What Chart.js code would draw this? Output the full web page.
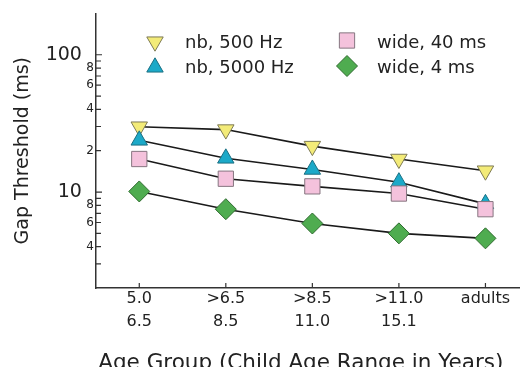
<!DOCTYPE html>
<html>
<head>
<meta charset="utf-8">
<script src="https://cdn.jsdelivr.net/npm/chart.js@4"></script>
<style>
  body { margin: 0; background: #fff; }
  #wrap { width: 531px; height: 367px; }
</style>
</head>
<body>
<div id="wrap"><canvas id="grafica"></canvas></div>
<script>
// age groups (two text lines per tick)
const gruposLinea1 = ['5.0', '>6.5', '>8.5', '>11.0', 'adults'];
const gruposLinea2 = ['6.5', '8.5', '11.0', '15.1', ''];
const posGrupos = [0, 1, 2, 3, 4];

// gap thresholds in ms
const nb500 = [29.9, 28.5, 21.6, 17.4, 14.3];
const nb5000 = [23.8, 17.6, 14.6, 11.8, 8.2];
const wide40 = [17.4, 12.5, 11.0, 9.75, 7.5];
const wide4 = [10.1, 7.5, 5.9, 5.0, 4.6];

const etiquetas = ['nb, 500 Hz', 'nb, 5000 Hz', 'wide, 40 ms', 'wide, 4 ms'];

// log axis ticks and their printed labels
const yTicks = [3, 4, 5, 6, 7, 8, 9, 10, 20, 30, 40, 50, 60, 70, 80, 90, 100];
const yTickLabels = { 4: '4', 6: '6', 8: '8', 10: '10', 20: '2', 40: '4', 60: '6', 80: '8', 100: '100' };

const fuente = "'DejaVu Sans', sans-serif";
const ejeColor = '#333';

const estilos = [
  { pointStyle: 'triangle', rotation: 180, radius: 9.5, bg: '#f3eb78', border: '#7d7a55' },
  { pointStyle: 'triangle', rotation: 0, radius: 9.5, bg: '#1ca9c8', border: '#1b6f82' },
  { pointStyle: 'rect', rotation: 0, radius: 10.8, bg: '#f4c2dc', border: '#867680' },
  { pointStyle: 'rectRot', rotation: 0, radius: 10.5, bg: '#4fac50', border: '#2e6a2e' }
];
const series = [nb500, nb5000, wide40, wide4];

function puntos(arr) {
  return arr.map((v, i) => ({ x: posGrupos[i], y: v }));
}

const datasets = [];
// lines underneath
series.forEach((s, i) => {
  datasets.push({
    label: etiquetas[i] + ' line',
    data: puntos(s),
    borderColor: '#1a1a1a',
    borderWidth: 1.6,
    pointRadius: 0,
    fill: false,
    order: 10
  });
});
// markers on top (wide 40 over nb 5000 over nb 500)
const ordenMarcas = { 0: 4, 1: 3, 2: 1, 3: 2 };
series.forEach((s, i) => {
  const e = estilos[i];
  datasets.push({
    label: etiquetas[i],
    data: puntos(s),
    showLine: false,
    pointStyle: e.pointStyle,
    pointRotation: e.rotation,
    pointRadius: e.radius,
    pointHoverRadius: e.radius,
    pointBackgroundColor: e.bg,
    pointBorderColor: e.border,
    pointBorderWidth: 1,
    order: ordenMarcas[i]
  });
});

// ticks pointing into the plot
const ticksAdentro = {
  id: 'ticksAdentro',
  afterDraw(chart) {
    const ctx = chart.ctx;
    const area = chart.chartArea;
    const x = chart.scales.x, y = chart.scales.y;
    ctx.save();
    ctx.strokeStyle = ejeColor;
    ctx.lineWidth = 1.2;
    ctx.beginPath();
    y.ticks.forEach(t => {
      const py = y.getPixelForValue(t.value);
      const len = (t.value === 10 || t.value === 100) ? 6 : 5;
      ctx.moveTo(area.left, py);
      ctx.lineTo(area.left + len, py);
    });
    x.ticks.forEach(t => {
      const px = x.getPixelForValue(t.value);
      ctx.moveTo(px, area.bottom);
      ctx.lineTo(px, area.bottom - 5);
    });
    ctx.stroke();
    ctx.restore();
  }
};

// two-column legend
const leyenda = {
  id: 'leyenda',
  afterDraw(chart) {
    const ctx = chart.ctx;
    const cols = [
      { mx: 155, tx: 185 },
      { mx: 347, tx: 377 }
    ];
    const ubic = [
      { c: 0, my: 41.7, ty: 47.5 },
      { c: 0, my: 67.3, ty: 72.5 },
      { c: 1, my: 40.5, ty: 47.5 },
      { c: 1, my: 66, ty: 72.5 }
    ];
    ctx.save();
    ubic.forEach((u, i) => {
      const e = estilos[i];
      ctx.fillStyle = e.bg;
      ctx.strokeStyle = e.border;
      ctx.lineWidth = 1;
      Chart.helpers.drawPoint(ctx, {
        pointStyle: e.pointStyle,
        rotation: e.rotation,
        radius: e.radius,
        borderWidth: 1
      }, cols[u.c].mx, u.my);
      ctx.fillStyle = '#222';
      ctx.font = '18px ' + fuente;
      ctx.textBaseline = 'alphabetic';
      ctx.textAlign = 'left';
      ctx.fillText(etiquetas[i], cols[u.c].tx, u.ty);
    });
    ctx.restore();
  }
};

const ctx = document.getElementById('grafica').getContext('2d');
const chart = new Chart(ctx, {
  type: 'line',
  data: { datasets: datasets },
  plugins: [ticksAdentro, leyenda],
  options: {
    responsive: true,
    maintainAspectRatio: false,
    animation: false,
    layout: { padding: { top: 12, right: 1, left: 0, bottom: 0 } },
    plugins: {
      legend: { display: false },
      tooltip: { enabled: false }
    },
    scales: {
      x: {
        type: 'linear',
        min: -0.5,
        max: 4.39,
        afterBuildTicks: (scale) => {
          scale.ticks = posGrupos.map(v => ({ value: v }));
        },
        afterFit: (scale) => { scale.height = 79; },
        grid: { display: true, drawOnChartArea: false, drawTicks: false },
        border: { display: true, color: ejeColor, width: 1.5 },
        ticks: {
          autoSkip: false,
          maxRotation: 0,
          padding: 0,
          color: '#222',
          font: { family: fuente, size: 16, lineHeight: 1.4 },
          callback: (v) => {
            const i = posGrupos.indexOf(v);
            return i < 0 ? '' : [gruposLinea1[i], gruposLinea2[i]];
          }
        },
        title: {
          display: true,
          text: 'Age Group (Child Age Range in Years)  ',
          color: '#222',
          font: { family: fuente, size: 21.5 },
          padding: { top: 0, bottom: -9 }
        }
      },
      y: {
        type: 'logarithmic',
        min: 2,
        max: 200,
        afterBuildTicks: (scale) => {
          scale.ticks = yTicks.map(v => ({ value: v, major: v === 10 || v === 100 }));
        },
        afterFit: (scale) => { scale.width = 96; },
        grid: { display: true, drawOnChartArea: false, drawTicks: false },
        border: { display: true, color: ejeColor, width: 1.5 },
        ticks: {
          autoSkip: false,
          padding: 2,
          color: '#222',
          font: (c) => {
            const big = c.tick && (c.tick.value === 10 || c.tick.value === 100);
            return { family: fuente, size: big ? 19 : 12 };
          },
          callback: (v) => {
            const l = yTickLabels[v];
            if (!l) return '';
            return (v === 10 || v === 100) ? l + '  ' : l;
          }
        },
        title: {
          display: true,
          text: 'Gap Threshold (ms)',
          color: '#222',
          font: { family: fuente, size: 19 },
          padding: { top: 12, bottom: 0 }
        }
      }
    }
  }
});
</script>
</body>
</html>
